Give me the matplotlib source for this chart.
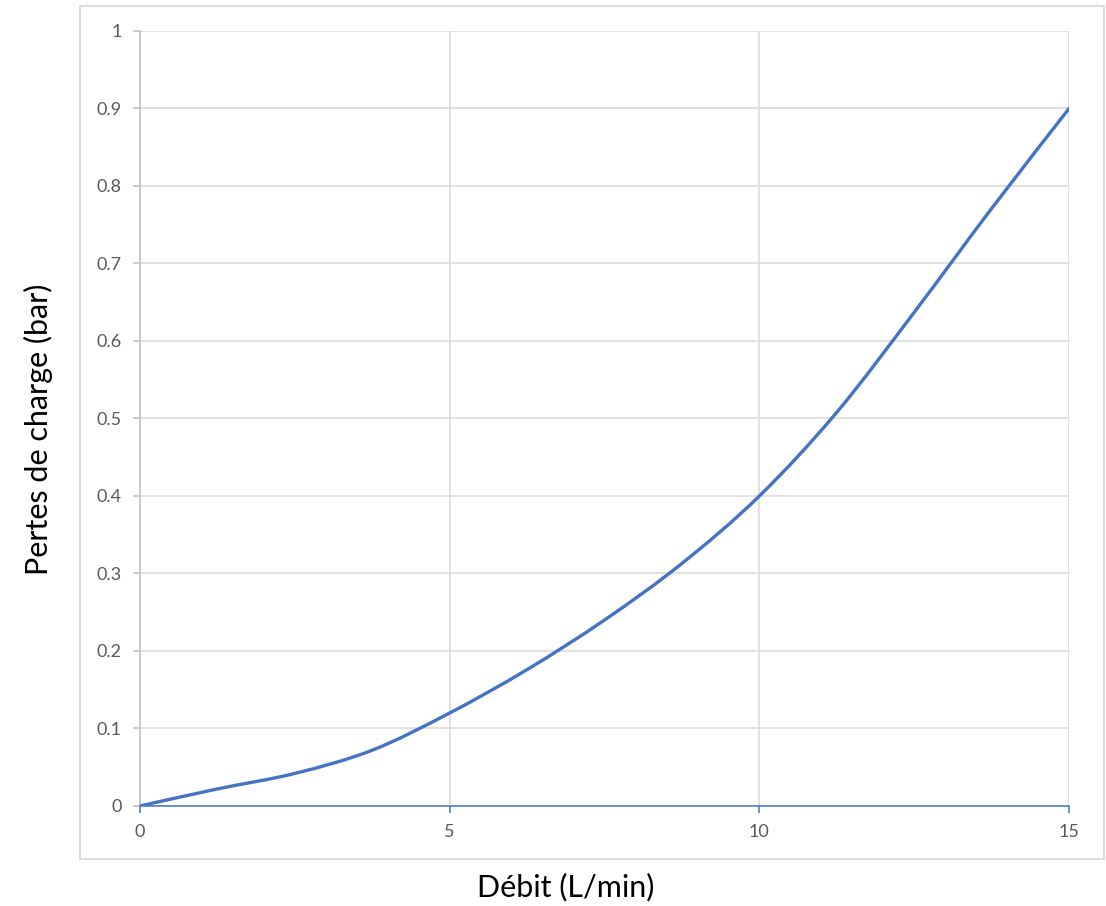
import matplotlib
matplotlib.use("Agg")
import matplotlib.pyplot as plt
from matplotlib.path import Path
from matplotlib.patches import PathPatch, Rectangle

# values
debit = [0, 1.25, 2.5, 3.75, 5, 6.25, 7.5, 8.75, 10, 11.25, 12.5, 13.75, 15]
pertes = [0, 0.022, 0.042, 0.072, 0.12, 0.176, 0.24, 0.313, 0.4, 0.508, 0.637, 0.771, 0.9]

x_ticks = [0, 5, 10, 15]
y_ticks = [0, 0.1, 0.2, 0.3, 0.4, 0.5, 0.6, 0.7, 0.8, 0.9, 1]
y_tick_labels = ["0", "0.1", "0.2", "0.3", "0.4", "0.5", "0.6", "0.7", "0.8", "0.9", "1"]

BLUE = "#4472C4"
GRID = "#D9D9D9"
TICK_TXT = "#595959"


def smooth_path(xs, ys):
    """Excel-like smoothed line: Catmull-Rom segments as cubic Beziers"""
    pts = list(zip(xs, ys))
    n = len(pts)
    verts = [pts[0]]
    codes = [Path.MOVETO]
    for i in range(n - 1):
        p0 = pts[max(i - 1, 0)]
        p1 = pts[i]
        p2 = pts[i + 1]
        p3 = pts[min(i + 2, n - 1)]
        c1 = (p1[0] + (p2[0] - p0[0]) / 6, p1[1] + (p2[1] - p0[1]) / 6)
        c2 = (p2[0] - (p3[0] - p1[0]) / 6, p2[1] - (p3[1] - p1[1]) / 6)
        verts += [c1, c2, p2]
        codes += [Path.CURVE4] * 3
    return Path(verts, codes)


plt.rcParams["font.family"] = ["Lato", "DejaVu Sans"]

fig = plt.figure(figsize=(11.06, 9.06), dpi=100)
ax = fig.add_axes([0.1266, 0.1104, 0.8400, 0.8554])

ax.add_patch(PathPatch(smooth_path(debit, pertes), facecolor="none",
                       edgecolor=BLUE, lw=2.4, capstyle="round", zorder=3))

ax.set_xlim(0, 15)
ax.set_ylim(0, 1)
ax.set_xticks(x_ticks)
ax.set_xticklabels([str(v) for v in x_ticks])
ax.set_yticks(y_ticks)
ax.set_yticklabels(y_tick_labels)

ax.grid(True, color=GRID, lw=1.1)
ax.set_axisbelow(True)

for side in ["top", "right"]:
    ax.spines[side].set_visible(False)
ax.spines["bottom"].set_color(BLUE)
ax.spines["bottom"].set_linewidth(1.1)
ax.spines["bottom"].set_zorder(4)
ax.spines["left"].set_color("#BFBFBF")
ax.spines["left"].set_linewidth(1.1)

ax.tick_params(axis="x", colors=BLUE, labelcolor=TICK_TXT, length=5, width=1.1,
               labelsize=13, pad=8)
ax.tick_params(axis="y", colors="#BFBFBF", labelcolor=TICK_TXT, length=5, width=1.1,
               labelsize=13, pad=8)

# chart area border
fig.patches.append(Rectangle((80 / 1106, 1 - 859 / 906), 1024 / 1106, 853 / 906,
                             transform=fig.transFigure, fill=False,
                             edgecolor=GRID, lw=1.3))

fig.text(566 / 1106, 1 - 887 / 906, "Débit (L/min)", ha="center", va="center",
         fontsize=22, color="black")
fig.text(38 / 1106, 1 - 429 / 906, "Pertes de charge (bar)", ha="center",
         va="center", rotation=90, fontsize=22, color="black")

fig.savefig("out.png", dpi=100, facecolor="white")
